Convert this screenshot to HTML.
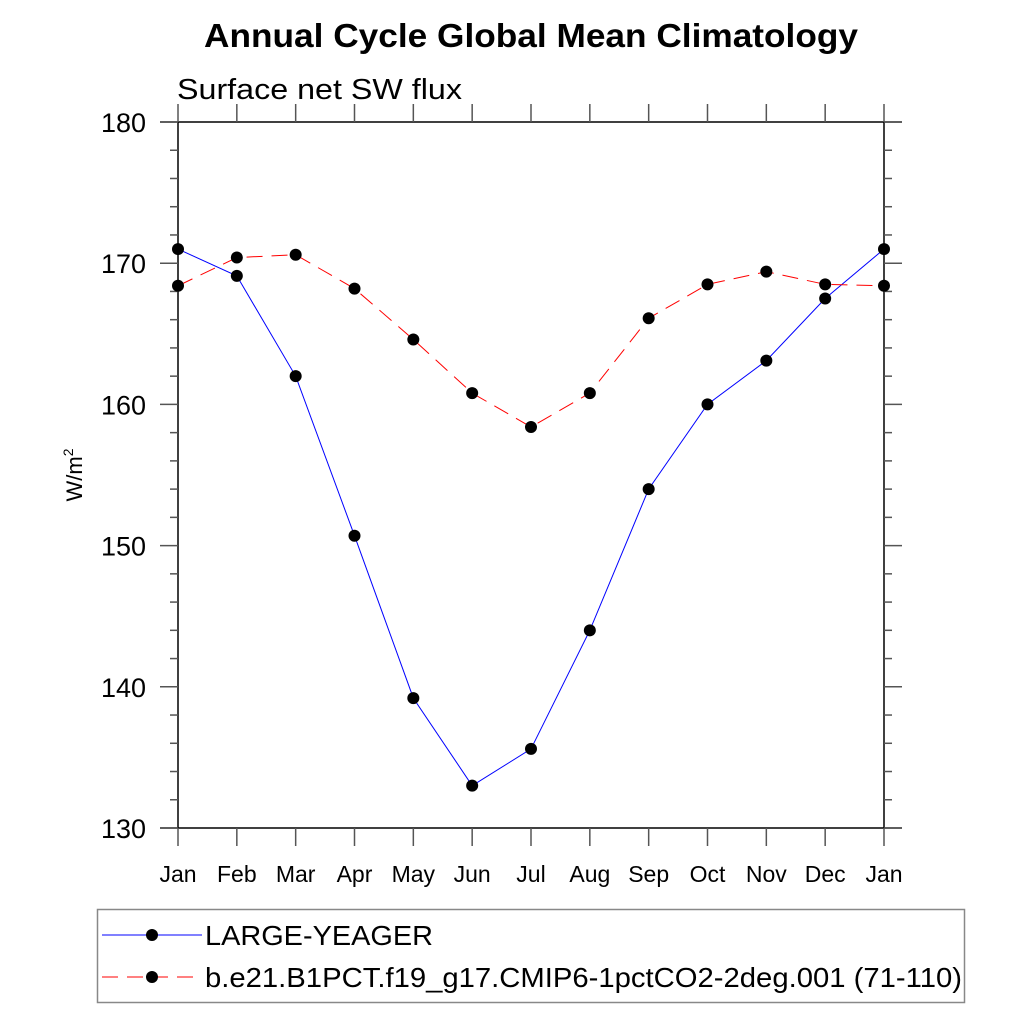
<!DOCTYPE html>
<html><head><meta charset="utf-8"><style>
body{margin:0;background:#fff;}
svg text{font-family:"Liberation Sans",Arial,sans-serif;}
</style></head><body>
<svg id="chart" width="1024" height="1024" viewBox="0 0 1024 1024" xmlns="http://www.w3.org/2000/svg">
<rect width="1024" height="1024" fill="#fff"/>
<text x="204" y="47" font-size="33" font-weight="bold" textLength="654" lengthAdjust="spacingAndGlyphs">Annual Cycle Global Mean Climatology</text>
<text x="177" y="99" font-size="29" textLength="285" lengthAdjust="spacingAndGlyphs">Surface net SW flux</text>
<text transform="translate(82,475) rotate(-90)" font-size="22" text-anchor="middle">W/m<tspan dy="-9" font-size="14">2</tspan></text>
<g id="axes"></g>
<g id="series"></g>
<g>
<rect x="97.5" y="909.5" width="867" height="93" fill="none" stroke="#888" stroke-width="1.5"/>
<g>
<line x1="102" y1="935" x2="202" y2="935" stroke="#00f" stroke-width="1"/>
<circle cx="152" cy="935" r="6" fill="#000"/>
<text x="205" y="945" font-size="28" textLength="228" lengthAdjust="spacingAndGlyphs">LARGE-YEAGER</text>
</g>
<g>
<line x1="102" y1="977" x2="202" y2="977" stroke="#f00" stroke-width="1" stroke-dasharray="16,9"/>
<circle cx="152" cy="977" r="6" fill="#000"/>
<text x="205" y="987" font-size="28" textLength="757" lengthAdjust="spacingAndGlyphs">b.e21.B1PCT.f19_g17.CMIP6-1pctCO2-2deg.001 (71-110)</text>
</g>
</g>
</svg>
<script>
const months = ["Jan","Feb","Mar","Apr","May","Jun","Jul","Aug","Sep","Oct","Nov","Dec","Jan"];
const largeYeager = [171.0,169.1,162.0,150.7,139.2,133.0,135.6,144.0,154.0,160.0,163.1,167.5,171.0];
const b1pct = [168.4,170.4,170.6,168.2,164.6,160.8,158.4,160.8,166.1,168.5,169.4,168.5,168.4];
const yTicks = [130,140,150,160,170,180];

const NS="http://www.w3.org/2000/svg";
const X0=178,X1=884,Y0=828,Y1=122,YMIN=130,YMAX=180;
const x=i=>X0+(X1-X0)*i/(months.length-1);
const y=v=>Y0-(v-YMIN)*(Y0-Y1)/(YMAX-YMIN);
function mk(tag,attrs,parent){const e=document.createElementNS(NS,tag);for(const k in attrs)e.setAttribute(k,attrs[k]);parent.appendChild(e);return e;}
const axes=document.getElementById('axes');
const ser=document.getElementById('series');
const st={stroke:"#000","stroke-width":1.5};
let f=mk('line',{x1:160,y1:Y0,x2:902,y2:Y0,...st},axes);


f=mk('line',{x1:160,y1:Y1,x2:902,y2:Y1,...st},axes);


f=mk('line',{x1:X0,y1:Y1,x2:X0,y2:Y0,...st},axes);


f=mk('line',{x1:X1,y1:Y1,x2:X1,y2:Y0,...st},axes);


months.forEach((m,i)=>{
  mk('line',{x1:x(i),y1:Y0,x2:x(i),y2:Y0+18,stroke:"#555","stroke-width":1.5},axes);
  mk('line',{x1:x(i),y1:Y1,x2:x(i),y2:Y1-18,stroke:"#555","stroke-width":1.5},axes);
  const t=mk('text',{x:x(i),y:882,"font-size":23,"text-anchor":"middle"},axes);
  
  
  t.textContent=m;
});
for(let v=YMIN;v<=YMAX;v+=2){
  const major=yTicks.includes(v);
  const L=major?18:8;
  mk('line',{x1:X0-L,y1:y(v),x2:X0,y2:y(v),stroke:"#555","stroke-width":1.5},axes);
  mk('line',{x1:X1,y1:y(v),x2:X1+L,y2:y(v),stroke:"#555","stroke-width":1.5},axes);
}
yTicks.forEach(v=>{
  const t=mk('text',{x:146,y:y(v)+10,"font-size":27,"text-anchor":"end"},axes);
  
  
  t.textContent=v;
});
function drawSeries(vals,color,dash,name){
  const g=mk('g',{},ser);
  
  
  const p=mk('polyline',{points:vals.map((v,i)=>x(i)+","+y(v)).join(" "),fill:"none",stroke:color,"stroke-width":1,"stroke-dasharray":dash},g);
  
  
  vals.forEach((v,i)=>{
    const c=mk('circle',{cx:x(i),cy:y(v),r:6,fill:"#000"},g);
    
    
  });
}
drawSeries(largeYeager,"#00f","none","series-large-yeager");
drawSeries(b1pct,"#f00","16,9","series-b-e21");
</script>
</body></html>
